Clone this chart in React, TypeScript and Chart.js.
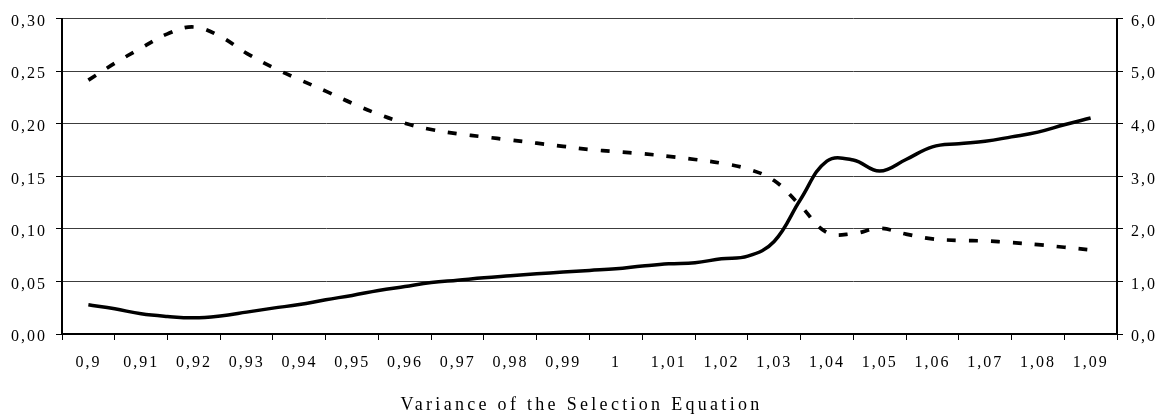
import React, { useEffect, useRef } from 'react';
import { Chart, registerables } from 'chart.js';

Chart.register(...registerables);

// x positions of the data (variance of the selection equation)
const xValues = [
  0.900, 0.905, 0.910, 0.915, 0.920, 0.925, 0.930, 0.935, 0.940, 0.945,
  0.950, 0.955, 0.960, 0.965, 0.970, 0.975, 0.980, 0.985, 0.990, 0.995,
  1.000, 1.005, 1.010, 1.015, 1.020, 1.025, 1.030, 1.035, 1.040, 1.045,
  1.050, 1.055, 1.060, 1.065, 1.070, 1.075, 1.080, 1.085, 1.090,
];

// category tick values and their labels
const tickValues = [
  0.90, 0.91, 0.92, 0.93, 0.94, 0.95, 0.96, 0.97, 0.98, 0.99,
  1.00, 1.01, 1.02, 1.03, 1.04, 1.05, 1.06, 1.07, 1.08, 1.09,
];
const tickLabels = [
  '0,9', '0,91', '0,92', '0,93', '0,94', '0,95', '0,96', '0,97', '0,98', '0,99',
  '1', '1,01', '1,02', '1,03', '1,04', '1,05', '1,06', '1,07', '1,08', '1,09',
];

// solid series (left axis, 0,00 - 0,30)
const solidSeries = [
  0.0278, 0.0240, 0.0192, 0.0167, 0.0154, 0.0172, 0.0208, 0.0246, 0.0280, 0.0326,
  0.0367, 0.0414, 0.0452, 0.0490, 0.0512, 0.0535, 0.0554, 0.0573, 0.0589, 0.0605,
  0.0620, 0.0646, 0.0668, 0.0678, 0.0716, 0.0740, 0.0880, 0.1280, 0.1645, 0.1655,
  0.1550, 0.1660, 0.1780, 0.1810, 0.1833, 0.1875, 0.1920, 0.1990, 0.2055,
];

// dashed series (right axis, 0,0 - 6,0)
const dashedSeries = [
  4.83, 5.15, 5.44, 5.71, 5.84, 5.66, 5.34, 5.07, 4.84, 4.62,
  4.39, 4.18, 4.01, 3.89, 3.81, 3.75, 3.69, 3.63, 3.57, 3.51,
  3.47, 3.43, 3.38, 3.32, 3.25, 3.14, 2.92, 2.44, 1.93, 1.91,
  2.01, 1.90, 1.81, 1.78, 1.77, 1.74, 1.70, 1.65, 1.60,
];

const xAxisTitle = 'Variance of the Selection Equation';

const FONT = "'Liberation Serif', 'Times New Roman', serif";

const spacingPlugin = {
  id: 'letterSpacing',
  beforeDraw(chart: any) {
    (chart.ctx as any).letterSpacing = '3.3px';
  },
  beforeDatasetsDraw(chart: any) {
    (chart.ctx as any).letterSpacing = '2px';
  },
  afterDraw(chart: any) {
    (chart.ctx as any).letterSpacing = '0px';
  },
};

export default function App() {
  const ref = useRef<HTMLCanvasElement>(null);

  useEffect(() => {
    document.body.style.margin = '0';
    const canvas = ref.current;
    if (!canvas) return;
    const chart = new Chart(canvas, {
      type: 'line',
      data: {
        datasets: [
          {
            label: 'solid',
            data: xValues.map((x, i) => ({ x, y: solidSeries[i] })),
            yAxisID: 'y',
            borderColor: '#000',
            borderWidth: 3.5,
            pointRadius: 0,
            tension: 0.4,
            fill: false,
          },
          {
            label: 'dashed',
            data: xValues.map((x, i) => ({ x, y: dashedSeries[i] })),
            yAxisID: 'y2',
            borderColor: '#000',
            borderWidth: 3.7,
            borderDash: [9, 13],
            pointRadius: 0,
            tension: 0.4,
            fill: false,
          },
        ],
      },
      options: {
        animation: false,
        responsive: false,
        layout: { padding: { top: 18, left: 0, right: 0, bottom: 0 } },
        plugins: {
          legend: { display: false },
          tooltip: { enabled: false },
          title: {
            display: true,
            position: 'bottom',
            align: 'center',
            text: xAxisTitle,
            color: '#000',
            font: { family: FONT, size: 18, weight: 'normal' },
            padding: { top: 0, bottom: 1 },
          },
        },
        scales: {
          x: {
            type: 'linear',
            position: 'bottom',
            min: 0.895,
            max: 1.095,
            afterBuildTicks: (s: any) => {
              s.ticks = tickValues.map((v) => ({ value: v }));
            },
            afterFit: (s: any) => {
              s.height = 60.4;
            },
            ticks: {
              autoSkip: false,
              maxRotation: 0,
              minRotation: 0,
              padding: 13,
              z: 1,
              color: '#000',
              font: { family: FONT, size: 16 },
              callback: (_v: any, i: number) => tickLabels[i],
            },
            grid: {
              display: true,
              drawOnChartArea: false,
              offset: true,
              tickLength: 6,
              tickColor: '#000',
              tickWidth: 1,
            },
            border: { display: true, color: '#000', width: 2 },
          },
          y: {
            type: 'linear',
            position: 'left',
            min: 0,
            max: 0.3,
            afterFit: (s: any) => {
              s.width = 62;
            },
            ticks: {
              stepSize: 0.05,
              padding: 9,
              labelOffset: 3,
              z: 1,
              color: '#000',
              font: { family: FONT, size: 16 },
              callback: (v: any) => Number(v).toFixed(2).replace('.', ','),
            },
            grid: {
              display: true,
              drawOnChartArea: true,
              color: '#3c3c3c',
              lineWidth: 1,
              tickLength: 6,
              tickColor: '#000',
            },
            border: { display: true, color: '#000', width: 2 },
          },
          y2: {
            type: 'linear',
            position: 'right',
            min: 0,
            max: 6,
            afterFit: (s: any) => {
              s.width = 46;
            },
            ticks: {
              stepSize: 1,
              padding: 8,
              labelOffset: 3,
              z: 1,
              color: '#000',
              font: { family: FONT, size: 16 },
              callback: (v: any) => Number(v).toFixed(1).replace('.', ','),
            },
            grid: {
              display: true,
              drawOnChartArea: false,
              tickLength: 6,
              tickColor: '#000',
            },
            border: { display: true, color: '#000', width: 2 },
          },
        },
      } as any,
      plugins: [spacingPlugin],
    });
    return () => chart.destroy();
  }, []);

  return (
    <div style={{ width: 1163, height: 417 }}>
      <canvas ref={ref} width={1163} height={417} style={{ display: 'block' }} />
    </div>
  );
}
